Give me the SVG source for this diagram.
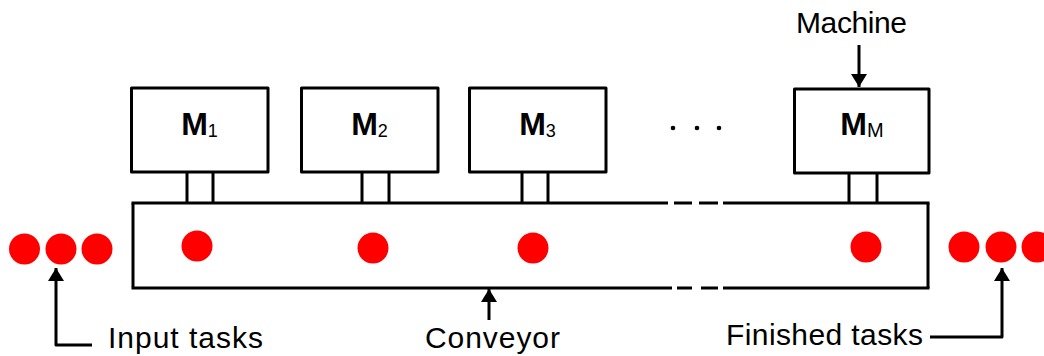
<svg xmlns="http://www.w3.org/2000/svg" width="1044" height="356" viewBox="0 0 1044 356">
<style>
.ln{fill:none;stroke:#000;stroke-width:3;stroke-linejoin:round}
.box{fill:#fff;stroke:#000;stroke-width:3;stroke-linejoin:round}
.dot{fill:#ff0000}
.lbl{font-family:"Liberation Sans",Arial,sans-serif;font-size:30px;fill:#000}
.m{font-family:"Liberation Sans",Arial,sans-serif;fill:#000}
</style>
<defs>
<marker id="ah" markerUnits="userSpaceOnUse" markerWidth="14" markerHeight="16" refX="13" refY="8" orient="auto">
<path d="M0,0 L13,8 L0,16 Z" fill="#000"/>
</marker>
</defs>
<g id="conveyor">
<path class="ln" d="M133,203 L133,287 M928,203 L928,288"/>
<path class="ln" d="M131.5,203 H668 M674,203 H692 M699,203 H718 M723,203 H929.5"/>
<path class="ln" d="M131.5,288 H672 M677,288 H692 M701,288 H718 M723,288 H929.5"/>
</g>
<g id="m1">
<rect class="box" x="131.5" y="88" width="136.5" height="84"/>
<path class="ln" d="M187,172 V203 M213,172 V203"/>
<text class="m" x="199.5" y="135" text-anchor="middle"><tspan font-size="32" font-weight="bold">M</tspan><tspan font-size="18" dy="2">1</tspan></text>
</g>
<g id="m2">
<rect class="box" x="301.5" y="88" width="136.5" height="84"/>
<path class="ln" d="M362,172 V203 M389,172 V203"/>
<text class="m" x="369.5" y="135" text-anchor="middle"><tspan font-size="32" font-weight="bold">M</tspan><tspan font-size="18" dy="2">2</tspan></text>
</g>
<g id="m3">
<rect class="box" x="469.5" y="88" width="136.5" height="84"/>
<path class="ln" d="M522,172 V203 M548,172 V203"/>
<text class="m" x="537.5" y="135" text-anchor="middle"><tspan font-size="32" font-weight="bold">M</tspan><tspan font-size="18" dy="2">3</tspan></text>
</g>
<g id="ellipsis">
<circle cx="673" cy="128" r="2.3"/>
<circle cx="697" cy="128" r="2.3"/>
<circle cx="719" cy="128" r="2.3"/>
</g>
<g id="mM">
<rect class="box" x="794.5" y="89" width="134.5" height="84"/>
<path class="ln" d="M849,173 V203 M877,173 V203"/>
<text class="m" x="862" y="135" text-anchor="middle"><tspan font-size="32" font-weight="bold">M</tspan><tspan font-size="20" dy="2">M</tspan></text>
</g>
<g id="tasks">
<circle class="dot" cx="24.5" cy="249" r="15.5"/>
<circle class="dot" cx="61" cy="249" r="15.5"/>
<circle class="dot" cx="97" cy="249" r="15.5"/>
<circle class="dot" cx="197" cy="246" r="15.5"/>
<circle class="dot" cx="373" cy="248" r="15.5"/>
<circle class="dot" cx="533" cy="248" r="15.5"/>
<circle class="dot" cx="866" cy="247" r="15.5"/>
<circle class="dot" cx="964" cy="247" r="15.5"/>
<circle class="dot" cx="1001" cy="247" r="15.5"/>
<circle class="dot" cx="1037" cy="247" r="15.5"/>
</g>
<g id="connectors">
<polyline class="ln" points="92,345 56,345 56,268" marker-end="url(#ah)"/>
<line class="ln" x1="489" y1="320" x2="489" y2="289" marker-end="url(#ah)"/>
<line class="ln" x1="859" y1="45" x2="859" y2="87" marker-end="url(#ah)"/>
<polyline class="ln" points="930,337 1002,337 1002,268" marker-end="url(#ah)"/>
</g>
<g id="labels">
<text class="lbl" x="108" y="348" textLength="155">Input tasks</text>
<text class="lbl" x="425" y="348" textLength="135">Conveyor</text>
<text class="lbl" x="726" y="345" textLength="197">Finished tasks</text>
<text class="lbl" x="796" y="33" textLength="111">Machine</text>
</g>
</svg>
